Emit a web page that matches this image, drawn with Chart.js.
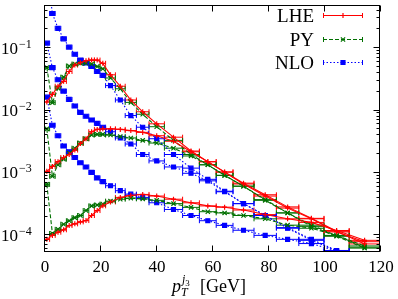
<!DOCTYPE html>
<html><head><meta charset="utf-8">
<script src="https://cdn.jsdelivr.net/npm/chart.js@4/dist/chart.umd.min.js"></script>
<style>html,body{margin:0;padding:0;background:#fff;}#wrap{width:398px;height:299px;}</style>
</head><body><div id="wrap"><canvas id="c" width="398" height="299"></canvas></div>
<script>
// ---- data ----
const binEdges = [0,2,4,6,8,10,12,14,16,18,20,22,25.5,29,33,37.5,43,49.5,55.5,61.5,67.5,75,83,91,100,109,120];
const xTicks = [0,20,40,60,80,100,120];
const yTickExps = [-4,-3,-2,-1];
const seriesNames = ['LHE','PY','NLO'];

const lheA = [0.0132,0.0175,0.0236,0.0283,0.0407,0.0516,0.0564,0.0607,0.062,0.062,0.055,0.036,0.0236,0.0142,0.0092,0.0059,0.0036,0.00216,0.00146,0.00099,0.00064,0.00041,0.000263,0.000177,0.000109,0.000076];
const pyA  = [0.047,0.0129,0.022,0.033,0.0499,0.0536,0.055,0.055,0.0536,0.049,0.045,0.032,0.0215,0.013,0.0084,0.0053,0.0032,0.0019,0.0013,0.00088,0.00059,0.00035,0.00022,0.000134,0.000093,0.00006];
const nloA = [1.8,0.346,0.2,0.136,0.1,0.077,0.062,0.056,0.049,0.0407,0.0352,0.0242,0.0142,0.008,0.0052,0.0034,0.0019,0.00115,0.00076,0.00049,0.00031,0.0002,0.000128,0.000083,0.000055,0.00003];
const lheB = [0.00102,0.00122,0.00146,0.0017,0.0019,0.00224,0.00285,0.0034,0.0044,0.0048,0.0049,0.0049,0.0048,0.0046,0.0043,0.0038,0.0031,0.0021,0.00145,0.001,0.00066,0.00043,0.000275,0.00018,0.000112,0.00007];
const pyB  = [0.0049,0.00085,0.0013,0.0016,0.002,0.0024,0.0029,0.0034,0.0039,0.004,0.004,0.0039,0.0037,0.0035,0.0032,0.0029,0.0024,0.0018,0.0013,0.00088,0.00059,0.00036,0.00022,0.00014,0.000095,0.000062];
const nloB = [0.116,0.047,0.03,0.0197,0.0145,0.0114,0.009,0.0078,0.0068,0.006,0.0052,0.0044,0.0035,0.0028,0.0019,0.0015,0.0012,0.00095,0.00072,0.00048,0.00031,0.0002,0.000125,0.00008,0.000054,0.00003];
const lheC = [0.000083,0.000096,0.000108,0.000118,0.000138,0.000147,0.000158,0.000166,0.0002,0.00024,0.000286,0.00033,0.00039,0.00042,0.000435,0.00041,0.000365,0.00032,0.000285,0.000272,0.000245,0.000207,0.000177,0.000155,0.000115,0.00008];
const pyC  = [0.00063,0.000103,0.00012,0.000145,0.000165,0.000185,0.0002,0.00024,0.000285,0.000295,0.000305,0.00034,0.000365,0.00038,0.00037,0.00035,0.00031,0.00027,0.00023,0.00022,0.0002,0.000177,0.00014,0.000125,0.000096,0.000065];
const nloC = [0.0158,0.0056,0.0038,0.0026,0.0021,0.0017,0.0014,0.0012,0.00098,0.0008,0.0007,0.0006,0.0005,0.00044,0.00039,0.00032,0.00025,0.0002,0.000165,0.000139,0.000116,0.000096,0.000083,0.000071,0.000054,0.00003];

// ---- styles ----
const RED='#ff0000', GREEN='#007000', BLUE='#0000ff';
const styles = {
  LHE:{color:RED, dash:[], pointStyle:'cross', radius:2.5},
  PY:{color:GREEN, dash:[4,2], pointStyle:'crossRot', radius:3},
  NLO:{color:BLUE, dash:[1.5,2], pointStyle:'rect', radius:2.8}
};
const SERIF = '"Liberation Serif","DejaVu Serif",serif';

function mk(name, vals){
  const s = styles[name];
  const pts = vals.map((v,i)=>({x:(binEdges[i]+binEdges[i+1])/2, y:v, lo:binEdges[i], hi:binEdges[i+1]}));
  return {label:name, data:pts, borderColor:s.color, backgroundColor:s.color, borderWidth:1.1,
    borderDash:s.dash, pointStyle:s.pointStyle, pointRadius:s.radius, pointBorderWidth:1.2,
    pointBorderColor:s.color, pointBackgroundColor:s.color, tension:0, clip:0, fill:false, spanGaps:false};
}

const errorBars = {
  id:'errorBars',
  beforeDatasetsDraw(chart){
    const {ctx, chartArea:a, scales:{x,y}} = chart;
    ctx.save();
    ctx.beginPath(); ctx.rect(a.left,a.top,a.right-a.left,a.bottom-a.top); ctx.clip();
    chart.data.datasets.forEach(ds=>{
      ctx.strokeStyle = ds.borderColor; ctx.lineWidth=1; ctx.setLineDash([]);
      ds.data.forEach(p=>{
        if(p.y==null) return;
        const py = y.getPixelForValue(p.y);
        const x0 = x.getPixelForValue(p.lo), x1 = x.getPixelForValue(p.hi);
        ctx.beginPath();
        ctx.moveTo(x0,py); ctx.lineTo(x1,py);
        ctx.moveTo(x0,py-2.5); ctx.lineTo(x0,py+2.5);
        ctx.moveTo(x1,py-2.5); ctx.lineTo(x1,py+2.5);
        ctx.stroke();
      });
    });
    ctx.restore();
  }
};

const decor = {
  id:'decor',
  afterDraw(chart){
    const {ctx, chartArea:a, scales:{x,y}} = chart;
    ctx.save();
    ctx.strokeStyle='#000'; ctx.lineWidth=1; ctx.setLineDash([]);
    const L=Math.round(a.left)+0.5, R=Math.round(a.right)-0.5, T=Math.round(a.top)+0.5, B=Math.round(a.bottom)-0.5;
    ctx.strokeRect(L,T,R-L,B-T);
    ctx.beginPath();
    xTicks.forEach(v=>{
      const px=Math.round(x.getPixelForValue(v))+0.5;
      ctx.moveTo(px,B); ctx.lineTo(px,B-6);
      ctx.moveTo(px,T); ctx.lineTo(px,T+6);
    });
    for(let e=-5;e<=0;e++){
      for(let m=1;m<=9;m++){
        const v=m*Math.pow(10,e);
        if(v<y.min||v>y.max) continue;
        const py=Math.round(y.getPixelForValue(v))+0.5;
        const len = m===1?6:3;
        ctx.moveTo(L,py); ctx.lineTo(L+len,py);
        ctx.moveTo(R,py); ctx.lineTo(R-len,py);
      }
    }
    ctx.stroke();
    // tick labels
    ctx.fillStyle='#000';
    ctx.font='17px '+SERIF; ctx.textAlign='center'; ctx.textBaseline='alphabetic';
    xTicks.forEach(v=>{ ctx.fillText(String(v), x.getPixelForValue(v)+1, 272); });
    yTickExps.forEach(e=>{
      const py=y.getPixelForValue(Math.pow(10,e));
      ctx.font='17px '+SERIF; ctx.textAlign='left';
      ctx.fillText('10', 1, py+6.5);
      const w=ctx.measureText('10').width;
      ctx.font='12px '+SERIF;
      ctx.fillText('\u2212'+String(-e), 1+w+1, py+0.5);
    });
    // x title
    let cx=172;
    ctx.textAlign='left';
    ctx.font='italic 18px '+SERIF; ctx.fillText('p', cx, 292);
    const pw=ctx.measureText('p').width;
    ctx.font='italic 12px '+SERIF; ctx.fillText('T', cx+pw, 296);
    ctx.fillText('j', cx+pw+1, 283);
    const jw=ctx.measureText('j').width;
    ctx.font='9px '+SERIF; ctx.fillText('3', cx+pw+1+jw, 286);
    ctx.font='18px '+SERIF; ctx.fillText('[GeV]', 200, 292);
    // legend
    const legY=[15,39,62];
    seriesNames.forEach((n,i)=>{
      const s=styles[n], yy=legY[i];
      ctx.font='19px '+SERIF; ctx.textAlign='right'; ctx.fillStyle='#000';
      ctx.fillText(n, 314, yy+6.5);
      ctx.strokeStyle=s.color; ctx.lineWidth=1;
      ctx.setLineDash(s.dash);
      ctx.beginPath(); ctx.moveTo(323,yy+0.5); ctx.lineTo(363,yy+0.5); ctx.stroke();
      ctx.setLineDash([]);
      ctx.beginPath();
      ctx.moveTo(323.5,yy-2); ctx.lineTo(323.5,yy+3);
      ctx.moveTo(362.5,yy-2); ctx.lineTo(362.5,yy+3);
      ctx.stroke();
      ctx.fillStyle=s.color; ctx.lineWidth=1.2;
      Chart.helpers.drawPoint(ctx,{pointStyle:s.pointStyle, radius:s.radius, borderWidth:1.2}, 343, yy+0.5);
    });
    ctx.restore();
  }
};

const datasets = [
  mk('LHE',lheA), mk('LHE',lheB), mk('LHE',lheC),
  mk('PY',pyA), mk('PY',pyB), mk('PY',pyC),
  mk('NLO',nloA), mk('NLO',nloB), mk('NLO',nloC)
];

new Chart(document.getElementById('c'), {
  type:'line',
  data:{datasets},
  options:{
    responsive:false, devicePixelRatio:1, animation:false,
    layout:{padding:{left:44,right:18,top:1,bottom:47}},
    plugins:{legend:{display:false}, tooltip:{enabled:false}},
    scales:{
      x:{type:'linear', min:0, max:120, display:false},
      y:{type:'logarithmic', min:5.2e-5, max:0.47, display:false}
    }
  },
  plugins:[errorBars, decor]
});
</script></body></html>
